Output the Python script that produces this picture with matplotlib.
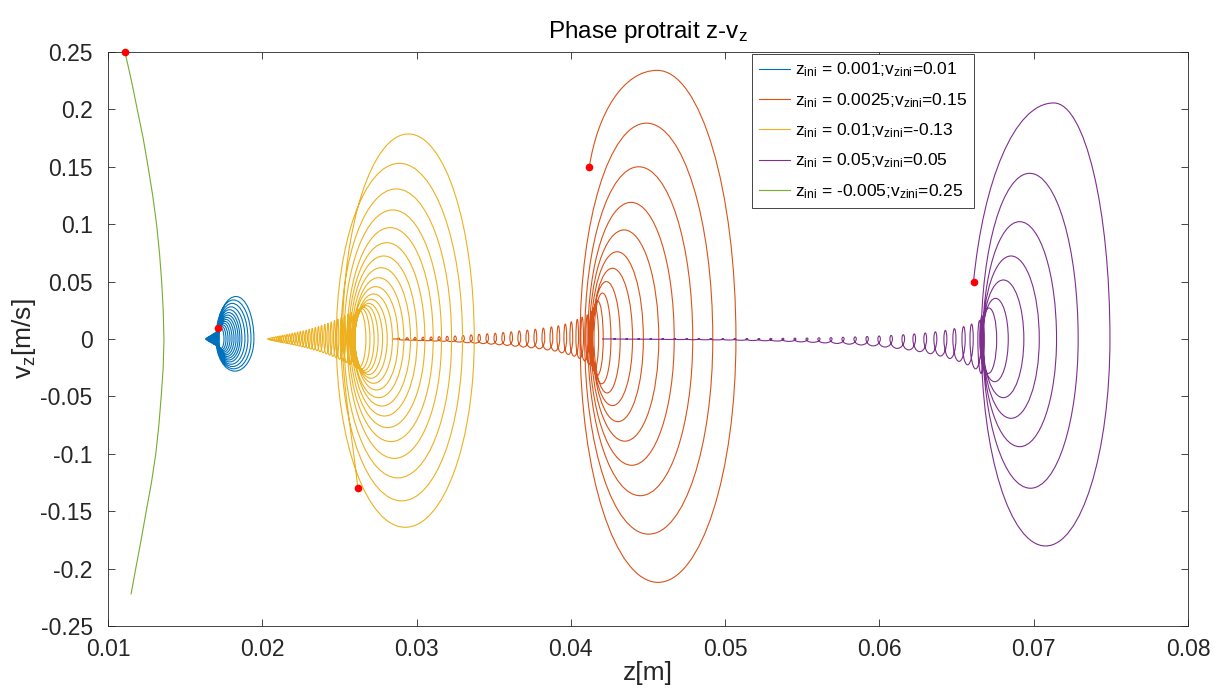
import matplotlib.pyplot as plt
from matplotlib.path import Path
from matplotlib.patches import PathPatch
from matplotlib.lines import Line2D

plt.rcParams['font.family'] = ['Liberation Sans', 'DejaVu Sans']
plt.rcParams['mathtext.default'] = 'regular'

labels = ['z$_{ini}$ = 0.001;v$_{zini}$=0.01',
          'z$_{ini}$ = 0.0025;v$_{zini}$=0.15',
          'z$_{ini}$ = 0.01;v$_{zini}$=-0.13',
          'z$_{ini}$ = 0.05;v$_{zini}$=0.05',
          'z$_{ini}$ = -0.005;v$_{zini}$=0.25']
colors = ['#0072BD', '#D95319', '#EDB120', '#7E2F8E', '#77AC30']

# starting points (red dots)
z_start = [0.0171, 0.0412, 0.0262, 0.0661, 0.0111]
v_start = [0.01, 0.15, -0.13, 0.05, 0.25]

# turning points of every loop: top v, right z (v=0), bottom v, left z (v=0)
# blue
blu_top1_z = 0.0183
blu_top = [0.037, 0.034, 0.031, 0.028, 0.0255, 0.023, 0.0208, 0.0188, 0.017, 0.0153, 0.0137, 0.0122, 0.0108, 0.0095]
blu_right = [0.01946, 0.01927, 0.01907, 0.01888, 0.01868, 0.01855, 0.01843, 0.01830, 0.01817, 0.01804, 0.01791, 0.01778, 0.01765, 0.01752]
blu_bot = [-0.028, -0.026, -0.024, -0.022, -0.020, -0.0183, -0.0167, -0.0152, -0.0138, -0.0125, -0.0113, -0.0102, -0.0092, -0.0082]
blu_left = [0.01700, 0.01704, 0.01707, 0.01709, 0.01711, 0.01712, 0.01713, 0.01714, 0.01714, 0.01714, 0.01714, 0.01714, 0.01714, 0.01714]
blu_tail_top = [0.0075, 0.007, 0.0065, 0.006, 0.0056, 0.0052, 0.0048, 0.0044, 0.004, 0.0036, 0.0032, 0.0029, 0.0026, 0.0023, 0.002, 0.0017, 0.0014, 0.0011, 0.0008, 0.0005]
blu_tail_right = [0.01722, 0.01716, 0.01711, 0.01706, 0.01701, 0.01696, 0.01691, 0.01686, 0.01682, 0.01678, 0.01674, 0.01670, 0.01666, 0.01662, 0.01658, 0.01655, 0.01652, 0.01649, 0.01646, 0.01643]
blu_tail_bot = [-0.007, -0.0065, -0.006, -0.0056, -0.0052, -0.0048, -0.0044, -0.004, -0.0036, -0.0033, -0.003, -0.0027, -0.0024, -0.0021, -0.0018, -0.0015, -0.0012, -0.0009, -0.0006, 0.0]
blu_tail_left = [0.01708, 0.01703, 0.01698, 0.01693, 0.01688, 0.01683, 0.01678, 0.01674, 0.01670, 0.01666, 0.01662, 0.01658, 0.01654, 0.01650, 0.01647, 0.01644, 0.01641, 0.01638, 0.01635, 0.01632]

# orange
org_top1_z = 0.0456
org_top = [0.234, 0.188, 0.150, 0.119, 0.095, 0.076, 0.0616, 0.050, 0.040, 0.033, 0.028]
org_right = [0.0507, 0.0492, 0.0479, 0.0467, 0.0457, 0.0447, 0.0440, 0.0432, 0.0426, 0.0421, 0.0418]
org_bot = [-0.212, -0.170, -0.1365, -0.110, -0.089, -0.072, -0.058, -0.047, -0.039, -0.032, -0.027]
org_left = [0.0406, 0.0409, 0.0411, 0.0412, 0.0413, 0.0414, 0.0414, 0.0415, 0.0414, 0.0413, 0.04124]
org_tail_top = [0.024, 0.021, 0.019, 0.017, 0.015, 0.013, 0.0115, 0.0105, 0.0095, 0.0085, 0.0077, 0.007, 0.0062, 0.0056,
                0.005, 0.0045, 0.004, 0.0035, 0.003, 0.0026, 0.0023, 0.002, 0.0017, 0.0015, 0.0013, 0.0011, 0.0009]
org_tail_right = [0.04140, 0.04115, 0.04082, 0.04050, 0.04012, 0.03973, 0.03928, 0.03883, 0.03831, 0.03779, 0.03727, 0.03675,
                  0.03622, 0.03570, 0.03518, 0.03466, 0.03414, 0.03362, 0.03310, 0.03258, 0.03206, 0.03154, 0.03102, 0.03050,
                  0.02998, 0.02946, 0.02890]
org_tail_bot = [-0.022, -0.019, -0.017, -0.015, -0.0135, -0.012, -0.0105, -0.0095, -0.0085, -0.0077, -0.007, -0.0063, -0.0056,
                -0.005, -0.0045, -0.004, -0.0036, -0.0032, -0.0027, -0.0023, -0.002, -0.0018, -0.0015, -0.0013, -0.0011, -0.0009, 0.0]
org_tail_left = [0.04098, 0.04065, 0.04033, 0.03994, 0.03955, 0.03910, 0.03865, 0.03813, 0.03761, 0.03709, 0.03657, 0.03605,
                 0.03553, 0.03502, 0.03450, 0.03398, 0.03346, 0.03294, 0.03242, 0.03191, 0.03139, 0.03087, 0.03035, 0.02983,
                 0.02931, 0.02879, 0.02841]

# yellow (starts below the axis, goes to a left turning point first)
yel_left0 = 0.0252
yel_top = [0.1786, 0.153, 0.1307, 0.1124, 0.097, 0.0839, 0.0723, 0.0621, 0.0534, 0.0456, 0.0392, 0.0345, 0.031, 0.029,
           0.0275, 0.0265, 0.0255]
yel_right = [0.03374, 0.03298, 0.03227, 0.03162, 0.03108, 0.03054, 0.03004, 0.02961, 0.02918, 0.02881, 0.02844, 0.02810,
             0.02780, 0.02751, 0.02725, 0.02698, 0.02672]
yel_bot = [-0.164, -0.141, -0.121, -0.104, -0.0894, -0.0772, -0.0671, -0.0584, -0.0511, -0.0444, -0.0386, -0.0342, -0.031,
           -0.029, -0.0275, -0.0265, -0.0255]
yel_left = [0.0248, 0.0251, 0.0253, 0.0255, 0.0256, 0.0257, 0.0258, 0.0259, 0.0259, 0.0260, 0.0260, 0.0260, 0.0260, 0.0259,
            0.0259, 0.0258, 0.0257]
yel_tail_top = [0.023, 0.0215, 0.020, 0.0186, 0.0173, 0.016, 0.0148, 0.0137, 0.0127, 0.0117, 0.0108, 0.0100, 0.0092, 0.0085, 0.0078,
                0.0071, 0.0065, 0.0059, 0.0054, 0.0049, 0.0044, 0.0039, 0.0035, 0.0031, 0.0027, 0.0023, 0.0019, 0.0015, 0.0011, 0.0006]
yel_tail_right = [0.02585, 0.02562, 0.02540, 0.02518, 0.02496, 0.02474, 0.02453, 0.02432, 0.02411, 0.02390, 0.02370, 0.02350,
                  0.02330, 0.02310, 0.02291, 0.02272, 0.02253, 0.02235, 0.02217, 0.02200, 0.02183, 0.02167, 0.02151, 0.02136,
                  0.02121, 0.02107, 0.02093, 0.02079, 0.02066, 0.02054]
yel_tail_bot = [-0.022, -0.0205, -0.019, -0.0177, -0.0164, -0.0152, -0.0141, -0.013, -0.012, -0.0111, -0.0102, -0.0094, -0.0087,
                -0.008, -0.0073, -0.0067, -0.0061, -0.0056, -0.0051, -0.0046, -0.0041, -0.0037, -0.0033, -0.0029, -0.0025,
                -0.0021, -0.0017, -0.0013, -0.0009, 0.0]
yel_tail_left = [0.02550, 0.02528, 0.02506, 0.02484, 0.02462, 0.02441, 0.02420, 0.02399, 0.02378, 0.02358, 0.02338, 0.02318,
                 0.02298, 0.02279, 0.02260, 0.02241, 0.02223, 0.02205, 0.02188, 0.02171, 0.02155, 0.02139, 0.02124, 0.02109,
                 0.02095, 0.02081, 0.02067, 0.02054, 0.02042, 0.02030]

# purple
pur_top1_z = 0.0713
pur_top = [0.2056, 0.1443, 0.1022, 0.0723, 0.0514, 0.0354, 0.027]
pur_right = [0.07494, 0.07288, 0.07148, 0.07036, 0.06936, 0.06835, 0.06760]
pur_bot = [-0.1803, -0.130, -0.0938, -0.0691, -0.0511, -0.0372, -0.030]
pur_left = [0.0666, 0.0667, 0.0667, 0.0667, 0.0667, 0.0666, 0.0665]
pur_tail_top = [0.02, 0.016, 0.013, 0.0108, 0.009, 0.0075, 0.0062, 0.0052, 0.0044, 0.0037, 0.0031, 0.0026, 0.0022, 0.0018,
                0.0015, 0.0012, 0.001, 0.0008, 0.0007, 0.0006, 0.0005, 0.0004, 0.00035, 0.0003, 0.00025, 0.0002, 0.0002,
                0.00015, 0.00015, 0.0001, 0.0001, 0.0001, 0.00005, 0.0]
pur_tail_right = [0.06680, 0.06660, 0.06608, 0.06556, 0.06496, 0.06437, 0.06372, 0.06306, 0.06234, 0.06163, 0.06084, 0.06006,
                  0.05928, 0.05850, 0.05771, 0.05693, 0.05615, 0.05537, 0.05459, 0.05381, 0.05303, 0.05225, 0.05147, 0.05069,
                  0.04991, 0.04913, 0.04835, 0.04757, 0.04679, 0.04601, 0.04523, 0.04445, 0.04367, 0.04289]
pur_tail_bot = [-0.03, -0.026, -0.0225, -0.0195, -0.017, -0.0148, -0.0128, -0.011, -0.0095, -0.0082, -0.007, -0.006, -0.0052,
                -0.0045, -0.0039, -0.0034, -0.0029, -0.0025, -0.0021, -0.0018, -0.0015, -0.0013, -0.0011, -0.0009, -0.0008,
                -0.0007, -0.0006, -0.0005, -0.0004, -0.0003, -0.0002, -0.00015, -0.0001, 0.0]
pur_tail_left = [0.06638, 0.06587, 0.06535, 0.06476, 0.06418, 0.06353, 0.06288, 0.06217, 0.06146, 0.06068, 0.05990, 0.05913,
                 0.05835, 0.05757, 0.05679, 0.05601, 0.05524, 0.05446, 0.05368, 0.05290, 0.05213, 0.05135, 0.05057, 0.04979,
                 0.04901, 0.04824, 0.04746, 0.04668, 0.04590, 0.04513, 0.04435, 0.04357, 0.04279, 0.04202]

# green (single arc)
grn_z = [0.0111, 0.01152, 0.0119, 0.01228, 0.0126, 0.0129, 0.01315, 0.01334, 0.01348, 0.01358, 0.01363,
         0.01358, 0.01345, 0.0133, 0.0131, 0.01282, 0.01248, 0.01215, 0.0118, 0.0115]
grn_v = [0.25, 0.225, 0.2, 0.175, 0.15, 0.125, 0.1, 0.075, 0.05, 0.025, 0.0,
         -0.025, -0.05, -0.075, -0.1, -0.125, -0.15, -0.175, -0.2, -0.222]

xticks = [0.01, 0.02, 0.03, 0.04, 0.05, 0.06, 0.07, 0.08]
xticklabels = ['0.01', '0.02', '0.03', '0.04', '0.05', '0.06', '0.07', '0.08']
yticks = [0.25, 0.2, 0.15, 0.1, 0.05, 0, -0.05, -0.1, -0.15, -0.2, -0.25]
yticklabels = ['0.25', '0.2', '0.15', '0.1', '0.05', '0', '-0.05', '-0.1', '-0.15', '-0.2', '-0.25']

K = 0.5523  # bezier constant for a quarter ellipse


def spiral_path(z0, v0, top, right, bot, left, top1_z=None, left0=None):
    verts = [(z0, v0)]
    codes = [Path.MOVETO]

    def curve(p1, p2, p3):
        verts.extend([p1, p2, p3])
        codes.extend([Path.CURVE4] * 3)

    zl = z0
    if left0 is not None:
        curve((z0 - 0.5 * (z0 - left0), 0.55 * v0), (left0, 0.3 * v0), (left0, 0.0))
        zl = left0
    for i in range(len(top)):
        zt = 0.5 * (zl + right[i])
        if i == 0 and left0 is None:
            if top1_z is not None:
                zt = top1_z
            curve((z0 + 0.12 * (zt - z0), v0 + 0.55 * (top[0] - v0)),
                  (zt - 0.5 * (zt - z0), top[0]), (zt, top[0]))
        else:
            curve((zl, K * top[i]), (zt - K * (zt - zl), top[i]), (zt, top[i]))
        zb = 0.5 * (right[i] + left[i])
        curve((zt + K * (right[i] - zt), top[i]), (right[i], K * top[i]), (right[i], 0.0))
        curve((right[i], K * bot[i]), (zb + K * (right[i] - zb), bot[i]), (zb, bot[i]))
        curve((zb - K * (zb - left[i]), bot[i]), (left[i], K * bot[i]), (left[i], 0.0))
        zl = left[i]
    return Path(verts, codes)


paths = [
    spiral_path(z_start[0], v_start[0], blu_top + blu_tail_top, blu_right + blu_tail_right,
                blu_bot + blu_tail_bot, blu_left + blu_tail_left, top1_z=blu_top1_z),
    spiral_path(z_start[1], v_start[1], org_top + org_tail_top, org_right + org_tail_right,
                org_bot + org_tail_bot, org_left + org_tail_left, top1_z=org_top1_z),
    spiral_path(z_start[2], v_start[2], yel_top + yel_tail_top, yel_right + yel_tail_right,
                yel_bot + yel_tail_bot, yel_left + yel_tail_left, left0=yel_left0),
    spiral_path(z_start[3], v_start[3], pur_top + pur_tail_top, pur_right + pur_tail_right,
                pur_bot + pur_tail_bot, pur_left + pur_tail_left, top1_z=pur_top1_z),
]

fig = plt.figure(figsize=(12.24, 6.94), dpi=100)
ax = fig.add_axes([0.0882, 0.098, 0.8824, 0.8271])

lw = 0.8
for i, p in enumerate(paths):
    ax.add_patch(PathPatch(p, fill=False, edgecolor=colors[i], lw=lw, joinstyle='round'))
    ax.plot(z_start[i], v_start[i], 'o', color='#FF0000', ms=5.5, mec='none', zorder=5)
ax.plot(grn_z, grn_v, color=colors[4], lw=lw)
ax.plot(z_start[4], v_start[4], 'o', color='#FF0000', ms=5.5, mec='none', zorder=5, clip_on=False)

ax.set_xlim(0.01, 0.08)
ax.set_ylim(-0.25, 0.25)
ax.set_xticks(xticks, xticklabels)
ax.set_yticks(yticks, yticklabels)
ax.tick_params(direction='in', top=True, right=True, length=5, width=0.6,
               labelsize=16.5, colors='#262626')
ax.tick_params(axis='x', pad=9)
ax.tick_params(axis='y', pad=11)
for s in ax.spines.values():
    s.set_color('#262626')
    s.set_linewidth(0.6)

ax.set_title('Phase protrait z-v$_z$', fontsize=17.5, pad=10, color='#000000')
ax.set_xlabel('z[m]', fontsize=19, color='#262626', labelpad=0)
ax.set_ylabel('v$_z$[m/s]', fontsize=19, color='#262626', labelpad=2)

handles = [Line2D([], [], color=c, lw=lw) for c in colors]
leg = ax.legend(handles, labels, loc='upper left', bbox_to_anchor=(0.596, 0.997),
                fontsize=12.5, frameon=True, fancybox=False, framealpha=1,
                edgecolor='#262626', handlelength=1.8, handletextpad=0.3,
                labelspacing=0.67, borderaxespad=0, borderpad=0.4)
leg.get_frame().set_linewidth(0.6)

fig.savefig('out.png', dpi=100)
